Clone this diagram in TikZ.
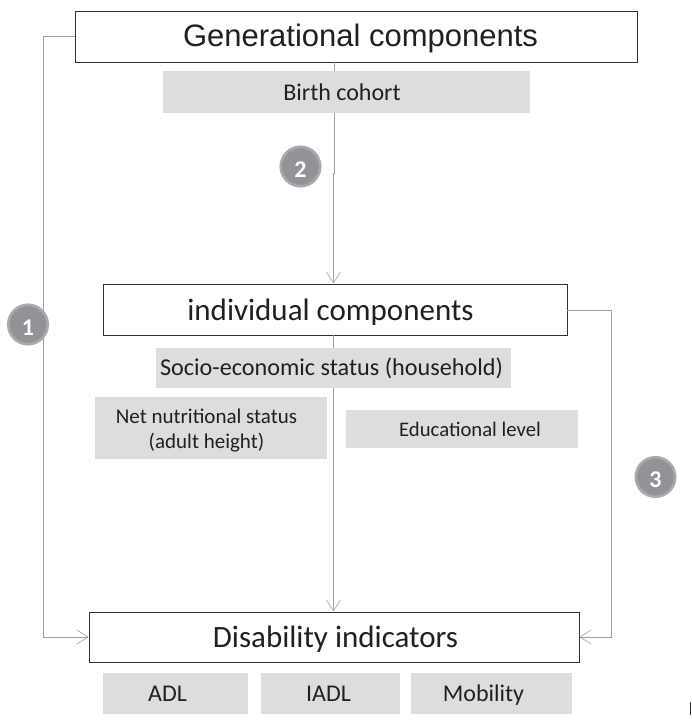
\documentclass[tikz,border=0pt]{standalone}
\usepackage{fontspec}
\setmainfont{Carlito}
\usetikzlibrary{arrows.meta}
\definecolor{boxgrey}{HTML}{DCDDDE}
\definecolor{linegrey}{HTML}{A0A0A3}
\definecolor{edge}{HTML}{3A2E2C}
\definecolor{badgefill}{HTML}{929396}
\definecolor{badgeedge}{HTML}{A9AAAD}
\definecolor{ink}{HTML}{231F20}
\newcommand\nudge[3]{\hspace*{#1}\raisebox{#2}{#3}}
\begin{document}
\begin{tikzpicture}[x=1pt,y=-1pt,
 mainbox/.style={draw=edge,fill=white,line width=0.9pt,inner sep=0pt,text=ink,text height=22pt,text depth=2pt},
 greybox/.style={fill=boxgrey,inner sep=0pt,text=ink,text height=17pt,text depth=2pt},
 twoline/.style={fill=boxgrey,inner sep=0pt,text=ink,align=center},
 conn/.style={draw=linegrey,line width=1pt,-{Straight Barb[length=11pt,width=14pt,line width=0.6pt]}},
 plain/.style={draw=linegrey,line width=1pt},
 badge/.style={circle,draw=badgeedge,line width=2.6pt,fill=badgefill,text=white,minimum size=39.5pt,inner sep=0pt,text height=21pt,text depth=0pt,font=\fontsize{24}{24}\selectfont\bfseries}]
\useasboundingbox (0,0) rectangle (691,720);
\fill[white] (0,0) rectangle (691,720);
\coordinate (gl) at (43,36);
\coordinate (dl) at (43,637);
\coordinate (ir) at (611,310);
\coordinate (dr) at (611,637);
\coordinate (j2a) at (334.5,173);
\coordinate (j2b) at (333.5,173);
\node[mainbox,minimum width=562pt,minimum height=51pt,font=\fontspec{Liberation Sans}\fontsize{31}{31}\selectfont] (gen) at (356,36.5) {\nudge{9pt}{0pt}{Generational components}};
\node[greybox,minimum width=367pt,minimum height=42pt,font=\fontsize{24}{26}\selectfont] (birth) at (346.5,92) {\nudge{-9pt}{-1pt}{Birth cohort}};
\node[mainbox,minimum width=464pt,minimum height=51pt,font=\fontsize{31}{31}\selectfont] (ind) at (335,309.5) {\nudge{-9pt}{-1pt}{individual components}};
\node[greybox,minimum width=355pt,minimum height=40pt,font=\fontsize{24.2}{26}\selectfont] (ses) at (333.5,368) {\nudge{-4pt}{0pt}{Socio-economic status (household)}};
\node[twoline,minimum width=232pt,minimum height=62pt,font=\fontsize{21}{25.5}\selectfont] (net) at (211,428) {\rule{0pt}{20pt}\nudge{-9pt}{0pt}{Net nutritional status}\\\nudge{-9pt}{0pt}{(adult height)}};
\node[greybox,minimum width=232pt,minimum height=38pt,font=\fontsize{20.7}{24}\selectfont] (edu) at (462,429) {\nudge{16pt}{0pt}{Educational level}};
\node[mainbox,minimum width=490pt,minimum height=50pt,font=\fontsize{31}{31}\selectfont] (dis) at (334,637) {\nudge{3pt}{0pt}{Disability indicators}};
\node[greybox,minimum width=145pt,minimum height=41pt,font=\fontsize{24}{26}\selectfont] (adl) at (175.5,693.5) {\nudge{-16pt}{0pt}{ADL}};
\node[greybox,minimum width=139pt,minimum height=41pt,font=\fontsize{24}{26}\selectfont] (iadl) at (330.5,693.5) {\nudge{-4pt}{0pt}{IADL}};
\node[greybox,minimum width=161pt,minimum height=41pt,font=\fontsize{24}{26}\selectfont] (mob) at (491.5,693.5) {\nudge{-16pt}{0pt}{Mobility}};
\draw[plain] (gen.south -| j2a) -- (birth.north -| j2a);
\draw[plain] (birth.south -| j2a) -- (j2a) -- (j2b);
\draw[conn] (j2b) -- (ind.north -| j2b);
\draw[plain] (ind.south -| j2b) -- (ses.north -| j2b);
\draw[conn] (ses.south -| j2b) -- (dis.north -| j2b);
\draw[conn] (gen.west |- gl) -- (gl) -- (dl) -- (dis.west |- dl);
\draw[conn] (ind.east |- ir) -- (ir) -- (dr) -- (dis.east |- dr);
\node[badge] (b1) at (28,324.5) {1};
\node[badge] (b2) at (300.5,166.5) {2};
\node[badge] (b3) at (655.5,477) {3};
\fill[black!80] (689.5,702) rectangle (691,715);
\end{tikzpicture}
\end{document}
